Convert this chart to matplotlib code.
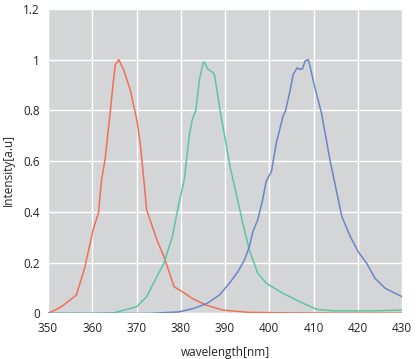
import matplotlib
matplotlib.use("Agg")
import matplotlib.pyplot as plt
from matplotlib.ticker import FuncFormatter

# emission spectra
red_wl = [350, 353, 356.4, 358.3, 360.2, 361.0, 361.4, 362.1, 362.9, 364.1, 364.8, 365.2, 366.0,
          367.1, 368.6, 370.1, 370.9, 371.4, 372.3, 374.6, 376.2, 378.5, 380.4, 382.6, 385.7,
          389.5, 395.5, 405, 415, 430]
red_i = [0.0, 0.026, 0.072, 0.18, 0.33, 0.375, 0.395, 0.527, 0.606, 0.80, 0.92, 0.98, 1.0,
         0.96, 0.88, 0.76, 0.66, 0.573, 0.408, 0.29, 0.224, 0.105, 0.085, 0.059, 0.033,
         0.013, 0.004, 0.002, 0.001, 0.001]

green_wl = [350, 360, 364.8, 370.0, 372.3, 374.6, 376.2, 378.1, 379.6, 380.8, 381.3, 381.9, 382.6,
            383.4, 384.2, 385.1, 385.5, 386.0, 387.2, 387.6, 389.1, 390.2, 391.2, 392.5, 394.0,
            395.5, 397.4, 399.3, 403.1, 406.9, 410.7, 414.5, 423.6, 430]
green_i = [0.0, 0.0, 0.002, 0.026, 0.066, 0.145, 0.198, 0.303, 0.435, 0.527, 0.606, 0.70, 0.764,
           0.80, 0.92, 0.99, 0.988, 0.964, 0.951, 0.942, 0.777, 0.672, 0.573, 0.474, 0.356,
           0.25, 0.158, 0.119, 0.079, 0.046, 0.016, 0.010, 0.010, 0.013]

blue_wl = [350, 365, 372.8, 379.6, 383.0, 386.0, 388.7, 391.0, 392.9, 394.4, 395.5, 396.3, 397.4,
           398.5, 399.3, 400.5, 401.6, 403.1, 403.7, 404.6, 405.4, 406.3, 406.9, 407.5, 408.1,
           408.8, 409.2, 410.3, 411.8, 413.7, 414.8, 416.4, 418.3, 420.1, 422.0, 423.9, 426.2, 430]
blue_i = [0.0, 0.0, 0.0, 0.006, 0.02, 0.04, 0.072, 0.119, 0.164, 0.211, 0.263, 0.323, 0.369,
          0.448, 0.52, 0.56, 0.672, 0.777, 0.80, 0.87, 0.942, 0.968, 0.962, 0.964, 0.995,
          1.0, 0.975, 0.89, 0.79, 0.606, 0.514, 0.382, 0.303, 0.243, 0.198, 0.138, 0.099, 0.066]

x_ticks = [350, 360, 370, 380, 390, 400, 410, 420, 430]
y_ticks = [0, 0.2, 0.4, 0.6, 0.8, 1.0, 1.2]

plt.rcParams['font.family'] = ['Open Sans', 'DejaVu Sans']

fig = plt.figure(figsize=(4.16, 3.59), dpi=100)
ax = fig.add_axes([0.1154, 0.127, 0.851, 0.848])
ax.set_facecolor('#d4d5d7')

ax.plot(red_wl, red_i, color='#f26e55', lw=1.1)
ax.plot(green_wl, green_i, color='#5cc6a2', lw=1.1)
ax.plot(blue_wl, blue_i, color='#6a86c8', lw=1.1)

ax.set_xlim(350, 430)
ax.set_ylim(0, 1.2)
ax.set_xticks(x_ticks)
ax.set_yticks(y_ticks)
ax.yaxis.set_major_formatter(FuncFormatter(lambda v, p: '%g' % round(v, 2)))
ax.grid(True, color='white', lw=1)
ax.set_axisbelow(True)
for s in ax.spines.values():
    s.set_visible(False)
ax.tick_params(length=0, labelsize=8.5, colors='#222222', pad=6)

ax.set_xlabel('wavelength[nm]', fontsize=8.5, color='#222222', labelpad=8)
ax.set_ylabel('Intensity[a.u]', fontsize=8.5, color='#222222')
ax.yaxis.set_label_coords(-0.094, 0.47)

fig.savefig('out.png', dpi=100)
